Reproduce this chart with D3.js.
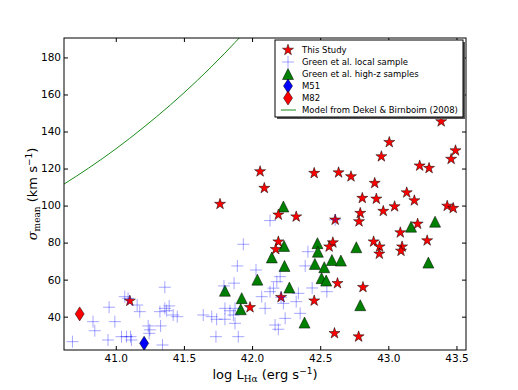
<!DOCTYPE html>
<html>
<head>
<meta charset="utf-8">
<script src="https://cdn.jsdelivr.net/npm/d3@7"></script>
<style>
  body { margin: 0; background: #fff; }
  text { font-family: "DejaVu Sans", sans-serif; }
</style>
</head>
<body>
<div id="chart"></div>
<script>
// This study (red stars)
var starL = [41.103, 41.765, 41.985, 42.059, 42.09, 42.193, 42.324, 42.193, 42.174, 42.213,
             42.456, 42.456, 42.61, 42.593, 42.566, 42.627, 42.605, 42.782, 42.635, 42.726,
             42.9, 42.809, 42.912, 42.794, 42.785, 42.963, 43.046, 42.949, 43.007, 43.135,
             43.191, 43.23, 43.299, 43.388, 43.493, 43.461, 43.432, 43.476, 43.215, 43.088,
             43.285, 42.892, 42.936, 42.934, 43.101, 43.093, 42.814];
var starSigma = [48.5, 100.8, 45, 118.4, 109.4, 95, 94, 80.5, 76.4, 50.5,
                 117.5, 48.6, 92.3, 80, 77.8, 58, 31, 29.2, 117.8, 115.7,
                 112.1, 104, 103.6, 95.9, 91.4, 97, 99.5, 126.5, 134.2, 107,
                 102.7, 121.5, 120.2, 145.4, 129.7, 125.1, 99.8, 98.6, 90.1, 85.4,
                 81.1, 80.5, 77.8, 73.9, 77.8, 75.5, 55.9];

// Green et al. local sample (blue crosses)
var localL = [41.066, 40.951, 41.157, 41.176, 40.833, 40.846, 40.993, 40.682, 40.943, 41.042,
              41.079, 41.108, 41.115, 41.238, 41.25, 41.245, 41.343, 41.329, 41.324, 41.36,
              41.373, 41.392, 41.421, 41.451, 41.642, 41.704, 41.74, 41.735, 41.801, 41.863,
              41.875, 41.899, 41.801, 41.838, 41.875, 42.071, 42.096, 42.132, 42.23, 42.243,
              42.169, 42.193, 42.324, 42.353, 42.34, 42.549, 42.132, 41.936, 42.41, 42.39,
              41.892, 42.029, 42.206, 42.182, 42.157, 41.868, 41.794, 42.61, 42.213, 42.441,
              41.36, 41.09];
var localSigma = [50.8, 45.1, 46.3, 42.7, 37.3, 32.4, 37.3, 26.5, 27.4, 29.2,
                  29.2, 29.2, 27.4, 35.0, 32.9, 31.0, 24.7, 35.0, 42.7, 44.5,
                  43.2, 45.8, 40.9, 40.0, 40.9, 40.0, 38.6, 29.2, 38.6, 40.9,
                  36.4, 29.2, 44.5, 43.2, 44.5, 50.8, 44.5, 53.5, 47.2, 39.1,
                  35.5, 33.2, 48.1, 41.8, 52.6, 53.5, 91.9, 79.1, 75.1, 67.4,
                  67.4, 65.2, 61.6, 58.9, 55.4, 58.1, 56.6, 92.3, 50.5, 55.5,
                  55.9, 49.9];

// Green et al. high-z samples (green triangles)
var highzL = [42.23, 42.235, 42.145, 42.48, 42.483, 42.586, 42.461, 42.53, 42.238, 42.51,
              42.544, 42.039, 41.801, 42.274, 41.924, 41.917, 42.385, 43.167, 43.343, 42.765,
              42.652, 43.294, 42.794];
var highzSigma = [99.5, 78.2, 72, 79.7, 75.1, 70.6, 68.5, 66.7, 67.4, 60.8,
                  59.5, 60, 54, 55.7, 50, 44, 36.8, 88.6, 91.3, 77.5,
                  70.3, 69.2, 46.2];

// single galaxies
var m51L = [41.208], m51Sigma = [25.6];
var m82L = [40.735], m82Sigma = [41.5];

// model curve
var modelL = [40.62, 40.8, 41.0, 41.2, 41.4, 41.6, 41.8, 41.95];
var modelSigma = [111.6, 120.2, 130.6, 142.0, 154.3, 167.7, 182.3, 194.0];

var xTicks = [41.0, 41.5, 42.0, 42.5, 43.0, 43.5];
var yTicks = [40, 60, 80, 100, 120, 140, 160, 180];
var legendLabels = ["This Study", "Green et al. local sample", "Green et al. high-z samples",
                    "M51", "M82", "Model from Dekel & Birnboim (2008)"];

var width = 518,
    height = 390,
    plotL = 64, plotT = 38, plotR = 466, plotB = 350;

var svg = d3.select("#chart")
    .append("svg")
    .attr("width", width)
    .attr("height", height);

var x = d3.scaleLinear().domain([40.62, 43.57]).range([plotL, plotR]);
var y = d3.scaleLinear().domain([22, 190.5]).range([plotB, plotT]);

svg.append("clipPath").attr("id", "clip")
    .append("rect")
    .attr("x", plotL).attr("y", plotT)
    .attr("width", plotR - plotL).attr("height", plotB - plotT);

var plot = svg.append("g").attr("clip-path", "url(#clip)");

// marker shapes
var starPath = d3.symbol(d3.symbolStar, 38)();
function triPath(h) { return "M0," + (-h) + "L" + (-h) + "," + h + "L" + h + "," + h + "Z"; }
function diamondPath(w, h) { return "M0," + (-h) + "L" + w + ",0L0," + h + "L" + (-w) + ",0Z"; }
function crossPath(s) { return "M" + (-s) + ",0H" + s + "M0," + (-s) + "V" + s; }

// model line
var line = d3.line()
    .x(function(d, i) { return x(modelL[i]); })
    .y(function(d, i) { return y(modelSigma[i]); })
    .curve(d3.curveMonotoneX);
plot.append("path")
    .attr("d", line(modelL))
    .attr("fill", "none")
    .attr("stroke", "#1a8c1a")
    .attr("stroke-width", 1);

// high-z triangles
plot.selectAll(".tri")
    .data(highzL)
    .enter()
    .append("path")
    .attr("d", triPath(5.5))
    .attr("transform", function(d, i) { return "translate(" + x(d) + "," + y(highzSigma[i]) + ")"; })
    .attr("fill", "#008000")
    .attr("stroke", "#000")
    .attr("stroke-width", 0.5);

// this study stars
plot.selectAll(".star")
    .data(starL)
    .enter()
    .append("path")
    .attr("d", starPath)
    .attr("transform", function(d, i) { return "translate(" + x(d) + "," + y(starSigma[i]) + ")"; })
    .attr("fill", "#ff0000")
    .attr("stroke", "#000")
    .attr("stroke-width", 0.5);

// local crosses
plot.selectAll(".cross")
    .data(localL)
    .enter()
    .append("path")
    .attr("d", crossPath(6))
    .attr("transform", function(d, i) { return "translate(" + x(d) + "," + y(localSigma[i]) + ")"; })
    .attr("fill", "none")
    .attr("stroke", "#0000ff")
    .attr("stroke-opacity", 0.35)
    .attr("stroke-width", 1);

// M51 / M82
plot.selectAll(".m51")
    .data(m51L)
    .enter()
    .append("path")
    .attr("d", diamondPath(4.5, 7))
    .attr("transform", function(d, i) { return "translate(" + x(d) + "," + y(m51Sigma[i]) + ")"; })
    .attr("fill", "#0000ff")
    .attr("stroke", "#000")
    .attr("stroke-width", 0.5);
plot.selectAll(".m82")
    .data(m82L)
    .enter()
    .append("path")
    .attr("d", diamondPath(4.5, 7))
    .attr("transform", function(d, i) { return "translate(" + x(d) + "," + y(m82Sigma[i]) + ")"; })
    .attr("fill", "#ff0000")
    .attr("stroke", "#000")
    .attr("stroke-width", 0.5);

// axes: ticks inward on all four sides
svg.append("g").attr("transform", "translate(0," + plotB + ")")
    .call(d3.axisBottom(x).tickValues(xTicks).tickSizeInner(-4).tickSizeOuter(0).tickPadding(5)
        .tickFormat(d3.format(".1f")));
svg.append("g").attr("transform", "translate(0," + plotT + ")")
    .call(d3.axisTop(x).tickValues(xTicks).tickSizeInner(-4).tickSizeOuter(0).tickFormat(""));
svg.append("g").attr("transform", "translate(" + plotL + ",0)")
    .call(d3.axisLeft(y).tickValues(yTicks).tickSizeInner(-4).tickSizeOuter(0).tickPadding(3));
svg.append("g").attr("transform", "translate(" + plotR + ",0)")
    .call(d3.axisRight(y).tickValues(yTicks).tickSizeInner(-4).tickSizeOuter(0).tickFormat(""));

svg.selectAll(".domain").remove();
svg.selectAll(".tick line").attr("stroke", "#000");
svg.selectAll(".tick text")
    .attr("fill", "#000")
    .style("font-size", "10.5px")
    .style("font-family", "DejaVu Sans");

// frame
svg.append("rect")
    .attr("x", plotL).attr("y", plotT)
    .attr("width", plotR - plotL).attr("height", plotB - plotT)
    .attr("fill", "none")
    .attr("stroke", "#000")
    .attr("stroke-width", 1);

// axis labels
var xl = svg.append("text")
    .attr("x", (plotL + plotR) / 2)
    .attr("y", 379)
    .attr("text-anchor", "middle")
    .style("font-size", "13px");
xl.append("tspan").text("log L");
xl.append("tspan").attr("dy", 3).style("font-size", "9px").style("font-family", "DejaVu Serif").text("H\u03b1");
xl.append("tspan").attr("dy", -3).text(" (erg s");
xl.append("tspan").attr("dy", -5).style("font-size", "9px").text("\u22121");
xl.append("tspan").attr("dy", 5).text(")");

var yl = svg.append("text")
    .attr("transform", "translate(37," + ((plotT + plotB) / 2) + ") rotate(-90)")
    .attr("text-anchor", "middle")
    .style("font-size", "13px");
yl.append("tspan").style("font-family", "DejaVu Serif").style("font-style", "italic").text("\u03c3");
yl.append("tspan").attr("dy", 3).style("font-size", "9px").style("font-family", "DejaVu Serif").text("mean");
yl.append("tspan").attr("dy", -3).text(" (km s");
yl.append("tspan").attr("dy", -5).style("font-size", "9px").text("\u22121");
yl.append("tspan").attr("dy", 5).text(")");

// legend with shadow
var lg = svg.append("g");
var lx = 275, ly = 40, lw = 188, lh = 77;
lg.append("rect").attr("x", lx + 2).attr("y", ly + 2).attr("width", lw).attr("height", lh).attr("fill", "#555");
lg.append("rect").attr("x", lx).attr("y", ly).attr("width", lw).attr("height", lh)
    .attr("fill", "#fff").attr("stroke", "#000").attr("stroke-width", 1);

var rowY = function(i) { return ly + 10 + i * 12; };
lg.append("path").attr("d", starPath).attr("transform", "translate(288," + rowY(0) + ")")
    .attr("fill", "#ff0000").attr("stroke", "#000").attr("stroke-width", 0.5);
lg.append("path").attr("d", crossPath(6)).attr("transform", "translate(288," + rowY(1) + ")")
    .attr("stroke", "#0000ff").attr("stroke-opacity", 0.35).attr("fill", "none");
lg.append("path").attr("d", triPath(5.5)).attr("transform", "translate(288," + rowY(2) + ")")
    .attr("fill", "#008000").attr("stroke", "#000").attr("stroke-width", 0.5);
lg.append("path").attr("d", diamondPath(4.5, 7)).attr("transform", "translate(288," + rowY(3) + ")")
    .attr("fill", "#0000ff").attr("stroke", "#000").attr("stroke-width", 0.5);
lg.append("path").attr("d", diamondPath(4.5, 7)).attr("transform", "translate(288," + rowY(4) + ")")
    .attr("fill", "#ff0000").attr("stroke", "#000").attr("stroke-width", 0.5);
lg.append("line").attr("x1", 281).attr("x2", 296).attr("y1", rowY(5)).attr("y2", rowY(5))
    .attr("stroke", "#1a8c1a");

lg.selectAll(".lt")
    .data(legendLabels)
    .enter()
    .append("text")
    .attr("x", 302)
    .attr("y", function(d, i) { return rowY(i) + 3; })
    .style("font-size", "8.5px")
    .text(function(d) { return d; });
</script>
</body>
</html>
